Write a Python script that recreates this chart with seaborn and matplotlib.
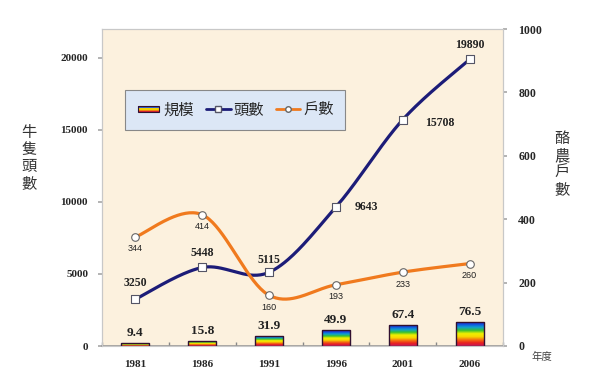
import numpy as np
import pandas as pd
import matplotlib
matplotlib.use("Agg")
import matplotlib.pyplot as plt
import seaborn as sns
from matplotlib.patches import Rectangle
from matplotlib.lines import Line2D
from matplotlib.legend_handler import HandlerBase
from matplotlib.colors import LinearSegmentedColormap

# ---- data ----
years = ['1981', '1986', '1991', '1996', '2001', '2006']
scale = [9.4, 15.8, 31.9, 49.9, 67.4, 76.5]          # 規模 (right axis)
heads = [3250, 5448, 5115, 9643, 15708, 19890]       # 頭數 (left axis)
farms = [344, 414, 160, 193, 233, 260]               # 戶數 (right axis)
left_ticks = [0, 5000, 10000, 15000, 20000]
right_ticks = [0, 200, 400, 600, 800, 1000]

sns.set_theme(style="white")
plt.rcParams['font.family'] = ['Liberation Serif', 'Noto Sans CJK TC', 'DejaVu Sans']

NAVY = '#1C1C78'
ORANGE = '#F07A1E'
BG = '#FCF1DE'
RAINBOW = ['#C8185A', '#E82020', '#F47010', '#F8D800', '#F0F000', '#38C030', '#10A0D0', '#1050E0', '#4818C8']
cmap = LinearSegmentedColormap.from_list('rb', RAINBOW)

fig = plt.figure(figsize=(5.95, 3.83), dpi=100)
fig.patch.set_facecolor('white')
ax = fig.add_axes([102/595, 1-346/383, 401/595, 317/383])
ax2 = ax.twinx()
ax.set_facecolor(BG)
ax.set_zorder(1)
ax2.set_zorder(2)

df = pd.DataFrame({'year': years, 'scale': scale, 'heads': heads, 'farms': farms})
df['pos'] = np.arange(len(years))

# bars on right axis
sns.barplot(data=df, x='year', y='scale', ax=ax2, color='#F0F000', width=0.42,
            edgecolor='#301030', linewidth=1.0, saturation=1)
grad = np.linspace(0, 1, 256).reshape(-1, 1)
for p in list(ax2.patches):
    x0, y0 = p.get_x(), p.get_y()
    w, h = p.get_width(), p.get_height()
    im = ax2.imshow(grad, cmap=cmap, origin='lower', aspect='auto',
                    extent=[x0, x0 + w, y0, y0 + h], zorder=p.get_zorder() - 0.1)
    im.set_clip_path(p)
    p.set_facecolor('none')


def smooth(xs, ys, n=40):
    xs = np.asarray(xs, float); ys = np.asarray(ys, float)
    P = np.column_stack([xs, ys])
    P = np.vstack([P[0], P, P[-1]])
    out = []
    for i in range(1, len(P) - 2):
        p0, p1, p2, p3 = P[i - 1], P[i], P[i + 1], P[i + 2]
        c1 = p1 + (p2 - p0) / 6
        c2 = p2 - (p3 - p1) / 6
        t = np.linspace(0, 1, n)[:, None]
        seg = (1 - t) ** 3 * p1 + 3 * (1 - t) ** 2 * t * c1 + 3 * (1 - t) * t ** 2 * c2 + t ** 3 * p2
        out.append(seg if i == 1 else seg[1:])
    return np.vstack(out)

# heads line (left axis)
sh = smooth(df['pos'], df['heads'])
sns.lineplot(x=sh[:, 0], y=sh[:, 1], ax=ax, color=NAVY, linewidth=2.3, sort=False, estimator=None)
sns.scatterplot(data=df, x='pos', y='heads', ax=ax, marker='s', s=28, color='white',
                edgecolor='#555566', linewidth=0.8, zorder=5)

# farms line (right axis)
sf = smooth(df['pos'], df['farms'])
sns.lineplot(x=sf[:, 0], y=sf[:, 1], ax=ax2, color=ORANGE, linewidth=2.3, sort=False, estimator=None)
sns.scatterplot(data=df, x='pos', y='farms', ax=ax2, marker='o', s=30, color='white',
                edgecolor='#666666', linewidth=0.8, zorder=5)

# axes limits
ax.set_xlim(-0.5, len(years) - 0.5)
ax2.set_xlim(-0.5, len(years) - 0.5)
ax.set_ylim(0, 22000)
ax2.set_ylim(0, 1000)

# labels for heads
head_off = [(0, 16), (0, 14), (0, 12), (30, 0), (37, -3), (0, 14)]
for i, (v, off) in enumerate(zip(heads, head_off)):
    ax.annotate(str(v), (i, v), xytext=off, textcoords='offset pixels', ha='center', va='center',
                fontsize=8.5, fontweight='bold', color='#222222', zorder=6)
# labels for farms
for i, v in enumerate(farms):
    ax2.annotate(str(v), (i, v), xytext=(0, -12), textcoords='offset pixels', ha='center', va='center',
                 fontsize=6.5, family=['Liberation Sans', 'DejaVu Sans'], color='#222222', zorder=6)
# labels for bars
for i, v in enumerate(scale):
    ax2.annotate(f'{v:.1f}', (i, v), xytext=(0, 10), textcoords='offset pixels', ha='center', va='center',
                 fontsize=9.5, fontweight='bold', color='#222222', zorder=6)

# ticks
ax.set_xticks(range(len(years)))
ax.set_xticklabels(years, fontsize=8, fontweight='bold')
ax.set_xticks(np.arange(-0.5, len(years), 1), minor=True)
ax.tick_params(axis='x', which='major', length=0, pad=10)
ax.tick_params(axis='x', which='minor', length=3, direction='in', color='#888888', bottom=True)
ax.set_yticks(left_ticks)
ax.set_yticklabels([str(t) for t in left_ticks], fontsize=8, fontweight='bold')
ax.tick_params(axis='y', length=3, direction='out', color='#aaaaaa', left=True, pad=7)
ax2.set_yticks(right_ticks)
ax2.set_yticklabels([str(t) for t in right_ticks], fontsize=8.5, fontweight='bold')
ax2.tick_params(axis='y', length=3, direction='out', color='#aaaaaa', right=True, pad=8)
ax2.set_xlabel(''); ax2.set_ylabel(''); ax.set_xlabel(''); ax.set_ylabel('')
ax2.tick_params(axis='x', length=0, labelbottom=False)

for a in (ax, ax2):
    for s in a.spines.values():
        s.set_color('#C8C8C8'); s.set_linewidth(0.8)
ax.spines['bottom'].set_color('#999999')
ax.spines['bottom'].set_linewidth(1.2)

# axis titles
cjk = ['Noto Sans CJK TC', 'DejaVu Sans']
fig.text(29/595, 1-158/383, '牛\n隻\n頭\n數', ha='center', va='center', fontsize=11,
         family=cjk, color='#333333', linespacing=1.0)
fig.text(562/595, 1-164/383, '酪\n農\n戶\n數', ha='center', va='center', fontsize=11,
         family=cjk, color='#333333', linespacing=1.0)
fig.text(542/595, 1-357/383, '年度', ha='center', va='center', fontsize=7.5,
         family=cjk, color='#444444')


class HandlerRainbow(HandlerBase):
    def create_artists(self, legend, orig_handle, xdescent, ydescent, width, height, fontsize, trans):
        arts = []
        bw = width * 0.85
        bh = height * 0.6
        x0 = -xdescent + (width - bw) / 2
        y0 = -ydescent + (height - bh) / 2
        cols = ['#D02030', '#F08010', '#F0D000', '#3060D0', '#3020A0']
        n = len(cols)
        for k, c in enumerate(cols):
            arts.append(Rectangle((x0, y0 + k * bh / n), bw, bh / n, facecolor=c, edgecolor='none', transform=trans))
        arts.append(Rectangle((x0, y0), bw, bh, facecolor='none', edgecolor='#301030', lw=0.8, transform=trans))
        return arts


rb_handle = Rectangle((0, 0), 1, 1)
h_line = Line2D([], [], color=NAVY, lw=2, marker='s', markersize=4, markerfacecolor='white', markeredgecolor='#555566')
f_line = Line2D([], [], color=ORANGE, lw=2, marker='o', markersize=4, markerfacecolor='white', markeredgecolor='#666666')
leg = ax2.legend([rb_handle, h_line, f_line], ['規模', '頭數', '戶數'],
                 handler_map={Rectangle: HandlerRainbow()},
                 loc='upper left', bbox_to_anchor=(0.057, 0.691, 0.55, 0.117), mode='expand',
                 ncol=3, frameon=True, fancybox=False, framealpha=1,
                 prop={'family': cjk, 'size': 11}, handlelength=1.6, handletextpad=0.2,
                 borderpad=0.75, columnspacing=1.0, borderaxespad=0)
leg.get_frame().set_facecolor('#DCE7F6')
leg.get_frame().set_edgecolor('#888888')
leg.get_frame().set_linewidth(0.8)

fig.savefig('out.png', dpi=100, facecolor='white')
